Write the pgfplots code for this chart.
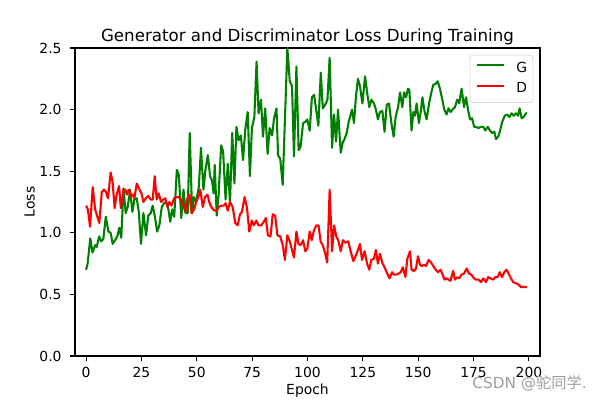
\documentclass[border=0pt]{standalone}
\usepackage{fontspec}
\setmainfont{DejaVu Sans}
\newfontfamily\cjk{Noto Sans CJK SC}
\usepackage{pgfplots}
\pgfplotsset{compat=1.18}

\definecolor{mplgreen}{RGB}{0,128,0}
\definecolor{mplred}{RGB}{255,0,0}

\begin{document}
\begin{tikzpicture}
\useasboundingbox (-54pt,-31.68pt) rectangle (378pt,256.32pt);
\begin{axis}[
    width=334.8pt, height=221.76pt, scale only axis,
    xmin=-5, xmax=205, ymin=0, ymax=2.5,
    xtick={0,25,...,200},
    ytick={0,0.5,...,2.5},
    xtick pos=bottom, ytick pos=left,
    tick align=outside, major tick length=3.5pt,
    tick style={line width=0.8pt, black},
    axis line style={line width=0.8pt},
    /pgf/number format/assume math mode=true,
    tick label style={font=\fontsize{10}{12}\selectfont},
    xticklabel style={anchor=north, inner sep=0pt, yshift=-4.5pt},
    yticklabel style={anchor=east, inner sep=0pt, xshift=-6pt,
        /pgf/number format/.cd, fixed, fixed zerofill, precision=1},
    title={Generator and Discriminator Loss During Training},
    title style={font=\fontsize{12}{14}\selectfont, at={(axis description cs:0.5,0.994)}, anchor=base},
    xlabel={Epoch},
    xlabel style={font=\fontsize{10}{12}\selectfont, at={(axis description cs:0.5,-0.126)}, anchor=base},
    ylabel={Loss},
    ylabel style={font=\fontsize{10}{12}\selectfont, at={(axis description cs:-0.0866,0.5)}, anchor=base},
    clip=false,
    legend style={at={(axis description cs:1,1)}, xshift=-5pt, yshift=-5pt, anchor=north east,
        draw=black!20, rounded corners=2pt, fill=white, fill opacity=0.8, text opacity=1,
        font=\fontsize{10}{12}\selectfont, inner xsep=4pt, inner ysep=5pt, row sep=5.5pt,
        column sep=8pt,
        nodes={inner sep=0pt, text height=7.3pt, text depth=2pt}},
    legend image code/.code={\draw[#1] (0pt,2.6pt) -- (20pt,2.6pt);},
    legend cell align=left,
    every axis plot/.append style={line width=1.5pt, line join=round},
]
\addplot[mplgreen, mark=none] coordinates {
(0,0.70) (0.7,0.75) (1.9,0.955) (2.9,0.84) (4.1,0.90) (4.8,0.885) (5.9,0.97) (6.8,0.93)
(7.8,0.95) (8.9,1.13) (10.1,1.01) (11.1,1.00) (12.0,0.91) (13.1,0.94) (14.1,0.97) (15.0,1.04)
(15.9,0.96) (16.9,1.36) (17.9,1.16) (18.8,1.21) (19.9,1.35) (20.9,1.17) (21.8,1.27) (22.9,1.28)
(23.8,1.17) (24.8,0.91) (25.9,1.16) (27.1,0.98) (28.1,1.14) (29.2,1.16) (30.1,1.22) (31.1,1.13)
(32.1,1.01) (33.1,1.06) (34.2,1.21) (35.2,1.24) (36.1,1.25) (37.0,1.21) (38.0,1.09) (38.9,1.19)
(39.8,1.13) (41.0,1.51) (41.9,1.47) (43.0,1.12) (44.0,1.35) (44.9,1.16) (45.9,1.16) (46.8,1.81)
(47.9,1.16) (48.7,1.29) (49.7,1.25) (50.9,1.37) (51.9,1.69) (53.0,1.35) (53.9,1.51) (55.0,1.63)
(56.0,1.46) (56.9,1.42) (57.6,1.32) (58.1,1.55) (59.0,1.14) (59.9,1.32) (61.0,1.71) (61.9,1.66)
(63.0,1.27) (64.0,1.56) (65.0,1.24) (66.0,1.81) (67.0,1.40) (67.9,1.86) (68.9,1.75) (69.9,1.79)
(70.9,1.59) (71.9,1.84) (73.0,1.98) (74.0,1.46) (74.9,1.85) (76.0,1.94) (77.0,2.39) (77.9,1.97)
(79.0,2.08) (79.9,1.78) (80.9,2.01) (82.0,1.64) (82.9,1.85) (84.0,1.79) (84.9,1.93) (86.0,2.01)
(86.7,1.63) (87.7,1.60) (88.8,1.39) (90.0,2.02) (90.9,2.50) (92.0,2.23) (93.0,2.19) (93.9,1.62)
(95.0,2.35) (96.0,1.67) (96.9,1.70) (98.0,1.89) (99.0,1.90) (99.9,1.92) (101.0,1.83) (102.0,2.10)
(103.0,2.12) (103.9,2.00) (104.9,1.87) (106.0,2.30) (106.9,2.01) (108.0,2.04) (109.0,2.08) (110.0,2.42)
(111.1,1.69) (112.0,1.96) (112.9,1.74) (113.8,2.00) (115.0,1.65) (116.0,1.74) (116.5,1.75) (117.7,1.81)
(118.6,1.90) (119.5,1.96) (120.1,2.00) (121.0,1.89) (121.9,2.11) (122.8,2.25) (123.7,2.19) (124.8,2.05)
(126.0,2.27) (127.0,2.13) (127.9,2.02) (128.9,2.08) (130.0,2.05) (130.9,2.00) (131.8,1.92) (132.7,1.98)
(133.8,1.99) (134.8,1.82) (135.8,2.04) (136.8,2.05) (137.9,1.89) (138.9,1.78) (139.8,1.94) (140.9,2.02)
(141.8,2.14) (142.8,2.02) (143.6,2.14) (144.5,2.10) (145.4,2.17) (146.0,2.16) (147.0,1.83) (147.8,1.98)
(148.5,1.95) (149.3,2.05) (150.3,1.89) (151.2,1.99) (151.9,2.10) (152.8,1.99) (153.8,1.92) (154.9,2.05)
(155.8,2.13) (156.8,2.20) (157.9,2.21) (158.8,2.23) (159.8,2.17) (160.9,2.08) (161.8,2.00) (162.8,1.96)
(163.7,2.01) (164.6,1.98) (165.5,2.00) (166.6,2.02) (167.6,2.08) (168.5,2.05) (169.6,2.17) (170.7,2.02)
(171.6,2.10) (172.5,2.00) (173.4,1.92) (174.3,1.93) (175.3,1.86) (176.1,1.86) (177.3,1.85) (178.3,1.86)
(179.4,1.86) (180.3,1.83) (181.4,1.86) (182.4,1.83) (183.3,1.81) (184.4,1.82) (185.1,1.76) (186.1,1.78)
(187.0,1.83) (187.9,1.90) (189.1,1.95) (190.1,1.96) (191.2,1.94) (192.2,1.97) (193.1,1.95) (194.2,1.97)
(195.1,1.95) (195.8,2.01) (196.7,1.93) (197.6,1.94) (198.7,1.97) (199.1,1.97)
};
\addlegendentry{G}
\addplot[mplred, mark=none] coordinates {
(0,1.22) (0.8,1.19) (1.8,1.05) (3.0,1.37) (4.1,1.19) (5.1,1.13) (6.0,1.08) (7.1,1.33)
(8.1,1.35) (9.0,1.33) (9.9,1.28) (11.1,1.49) (12.0,1.41) (12.9,1.20) (13.8,1.31) (14.9,1.38)
(15.7,1.20) (16.9,1.35) (17.8,1.35) (18.4,1.31) (19.3,1.35) (20.2,1.30) (21.1,1.31) (21.8,1.28)
(22.9,1.40) (23.9,1.36) (25.0,1.32) (25.9,1.25) (27.0,1.28) (28.1,1.30) (29.2,1.27) (30.1,1.27)
(31.0,1.46) (31.9,1.27) (32.8,1.32) (33.9,1.25) (34.9,1.27) (35.8,1.28) (36.7,1.21) (37.6,1.25)
(38.5,1.22) (39.8,1.28) (40.6,1.29) (41.7,1.29) (42.7,1.27) (43.8,1.23) (44.8,1.17) (45.5,1.27)
(46.7,1.31) (47.6,1.16) (48.8,1.19) (49.7,1.25) (50.7,1.29) (51.6,1.35) (52.7,1.21) (53.7,1.29)
(54.8,1.31) (55.8,1.24) (56.9,1.20) (58.0,1.18) (59.0,1.18) (59.9,1.21) (61.1,1.22) (62.2,1.22)
(63.0,1.24) (64.0,1.18) (65.0,1.25) (66.2,1.21) (67.4,1.08) (68.5,1.06) (69.5,1.15) (70.4,1.17)
(71.6,1.29) (72.7,1.20) (73.7,1.01) (74.9,1.10) (75.8,1.06) (76.9,1.10) (77.9,1.06) (79.1,1.06)
(80.3,1.09) (81.2,1.12) (82.1,0.98) (83.3,0.97) (84.3,1.15) (85.4,1.14) (86.4,0.98) (87.7,0.97)
(88.8,0.90) (89.8,0.78) (90.9,0.98) (92.0,0.93) (93.0,0.86) (93.9,0.80) (95.0,1.01) (95.9,0.91)
(96.9,0.90) (98.0,0.94) (99.0,0.85) (99.9,0.87) (101.0,1.01) (101.9,0.94) (102.9,1.02) (104.0,1.06)
(105.0,1.06) (105.9,0.93) (106.9,0.90) (108.0,0.83) (108.9,0.76) (110.0,1.35) (111.1,0.85) (112.0,1.06)
(113.0,0.97) (113.9,0.94) (115.0,0.85) (116.0,0.94) (117.0,0.92) (118.4,0.93) (119.5,0.85) (120.7,0.77)
(121.7,0.81) (122.8,0.86) (123.7,0.91) (124.6,0.78) (125.8,0.85) (126.9,0.75) (127.9,0.70) (128.8,0.78)
(130.0,0.79) (130.9,0.86) (131.8,0.75) (132.7,0.83) (133.9,0.75) (134.8,0.72) (136.0,0.67) (137.1,0.63)
(138.2,0.68) (139.1,0.66) (140.1,0.66) (141.2,0.67) (142.1,0.68) (143.1,0.72) (144.2,0.64) (145.1,0.79)
(146.3,0.85) (147.0,0.70) (148.1,0.69) (149.0,0.71) (149.9,0.81) (150.8,0.74) (151.7,0.73) (152.6,0.74)
(153.5,0.73) (154.7,0.78) (155.8,0.76) (156.8,0.73) (157.9,0.70) (158.9,0.68) (160.1,0.70) (161.0,0.66)
(161.9,0.62) (162.8,0.63) (163.7,0.62) (164.6,0.61) (165.8,0.69) (166.6,0.62) (167.6,0.64) (168.5,0.63)
(169.6,0.66) (170.7,0.67) (171.9,0.71) (172.9,0.67) (174.0,0.66) (175.2,0.63) (176.1,0.62) (177.3,0.62)
(178.3,0.60) (179.4,0.63) (180.6,0.60) (181.6,0.64) (182.7,0.63) (183.9,0.62) (184.8,0.64) (185.8,0.64)
(186.9,0.68) (187.8,0.64) (188.9,0.68) (189.9,0.70) (190.8,0.67) (191.9,0.63) (192.9,0.60) (194.1,0.59)
(195.3,0.58) (196.3,0.56) (197.4,0.56) (198.6,0.56) (199.1,0.56)
};
\addlegendentry{D}
\node[anchor=base west, inner sep=0pt, text=black!38, font=\fontsize{11}{13}\selectfont]
    at (axis description cs:0.854,-0.104) {CSDN @{\cjk 驼同学}.};
\end{axis}
\end{tikzpicture}
\end{document}
